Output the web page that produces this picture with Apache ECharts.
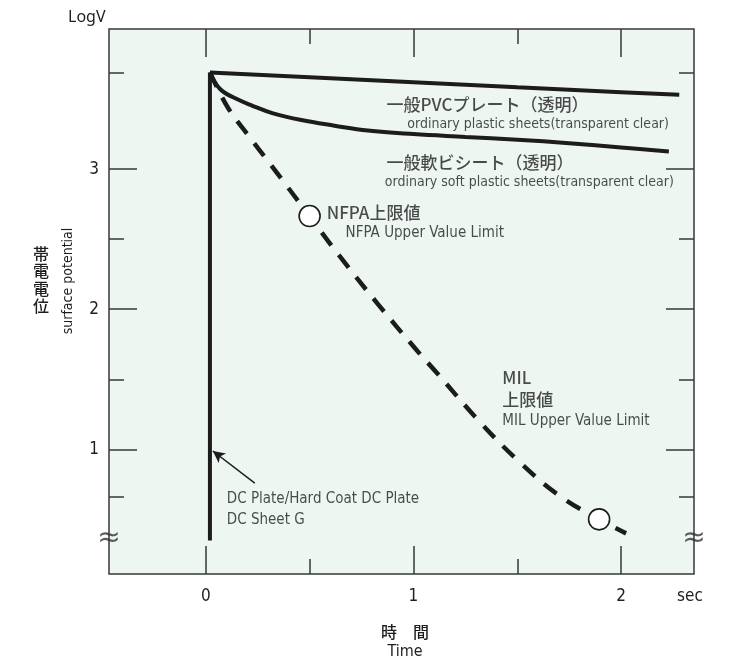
<!DOCTYPE html>
<html>
<head>
<meta charset="utf-8">
<script src="https://cdn.jsdelivr.net/npm/echarts@6/dist/echarts.min.js"></script>
<style>
html,body{margin:0;padding:0;background:#fff;}
#chart{width:732px;height:662px;}
</style>
</head>
<body>
<div id="chart"></div>
<script>
// ---------- data ----------
const timeMajorTicks = [0, 1, 2];
const timeMinorTicks = [0.5, 1.5];
const potMajorTicks = [1, 2, 3];
const potMinorTicks = [3.69, 2.5, 1.5, 0.66];

// 一般PVCプレート(透明)
const pvcT = [0.02, 0.5, 1.0, 1.5, 2.0, 2.28];
const pvcV = [3.69, 3.656, 3.62, 3.584, 3.549, 3.53];

// 一般軟ビシート(透明)
const softT = [0.02, 0.07, 0.15, 0.22, 0.32, 0.46, 0.62, 0.78, 1.0, 1.25, 1.5, 1.75, 2.0, 2.23];
const softV = [3.69, 3.57, 3.5, 3.455, 3.4, 3.35, 3.31, 3.275, 3.25, 3.23, 3.21, 3.185, 3.155, 3.125];

// dashed decay curve (upper value limits)
const limitT = [0.02, 0.106, 0.21, 0.298, 0.38, 0.466, 0.644, 0.827, 1.014, 1.11, 1.317, 1.51, 1.702, 1.894, 2.024];
const limitV = [3.69, 3.44, 3.23, 3.06, 2.90, 2.73, 2.38, 2.04, 1.71, 1.55, 1.20, 0.91, 0.67, 0.50, 0.40];

// DC Plate / DC Sheet G
const dcT = [0.02, 0.02];
const dcV = [3.69, 0.35];

// NFPA / MIL limit points
const markerT = [0.5, 1.894];
const markerV = [2.665, 0.50];

// texts
const noteTexts = [
  '一般PVCプレート（透明）',
  'ordinary plastic sheets(transparent clear)',
  '一般軟ビシート（透明）',
  'ordinary soft plastic sheets(transparent clear)',
  'NFPA上限値',
  'NFPA Upper Value Limit',
  'MIL',
  '上限値',
  'MIL Upper Value Limit',
  'DC Plate/Hard Coat DC Plate',
  'DC Sheet G'
];
const yUnit = 'LogV';
const xUnit = 'sec';
const xTitleJa = '時　間';
const xTitleEn = 'Time';
const yTitleJa = '帯電電位';
const yTitleEn = 'surface potential';

// ---------- layout ----------
const X_MIN = -0.466, X_MAX = 2.351, Y_MIN = 0.11, Y_MAX = 4.0;
const noteCoords = [
  [0.87, 3.458], [0.97, 3.322], [0.87, 3.044], [0.862, 2.908],
  [0.582, 2.687], [0.673, 2.544],
  [1.428, 1.509], [1.428, 1.352], [1.428, 1.202],
  [0.101, 0.645], [0.101, 0.495]
];
const noteSizes = [17, 14, 17, 14, 17, 15, 17, 17, 15, 15, 15];
const noteIsJa = [true, false, true, false, true, false, true, true, false, false, false];
const arrowFrom = [0.236, 0.759];
const arrowTo = [0.034, 0.988];
const breakY = 0.36;

const NARROW = "'Liberation Sans Narrow','DejaVu Sans Condensed','Roboto Condensed',Roboto,sans-serif";
const JA = "'Noto Sans CJK JP','Noto Sans',sans-serif";
const INK = '#1c1c1c';
const AXIS = '#383838';
const TEXT = '#1e1e1e';

const zip = (a, b) => a.map((v, i) => [v, b[i]]);

function xAxisDef(pos, ticks, len, labels) {
  return {
    type: 'value', position: pos, min: X_MIN, max: X_MAX, gridIndex: 0,
    axisLine: {show: false, onZero: false},
    splitLine: {show: false},
    axisTick: {show: true, inside: true, length: len, customValues: ticks,
      lineStyle: {color: AXIS, width: 1.5}},
    axisLabel: labels ? {show: true, customValues: ticks, margin: 14,
      fontFamily: NARROW, fontSize: 17, color: TEXT} : {show: false}
  };
}
function yAxisDef(pos, ticks, len, labels) {
  return {
    type: 'value', position: pos, min: Y_MIN, max: Y_MAX, gridIndex: 0,
    axisLine: {show: false, onZero: false},
    splitLine: {show: false},
    axisTick: {show: true, inside: true, length: len, customValues: ticks,
      lineStyle: {color: AXIS, width: 1.5}},
    axisLabel: labels ? {show: true, customValues: ticks, margin: 10,
      fontFamily: NARROW, fontSize: 17, color: TEXT} : {show: false}
  };
}

const noteData = noteTexts.map((t, i) => ({
  value: noteCoords[i],
  label: {
    formatter: t,
    fontFamily: noteIsJa[i] ? JA : NARROW,
    fontWeight: noteIsJa[i] ? 500 : 'normal',
    fontSize: noteSizes[i]
  }
}));

const option = {
  animation: false,
  backgroundColor: '#ffffff',
  grid: {left: 109, top: 29, width: 585, height: 545, show: true,
    backgroundColor: '#edf6f1', borderColor: AXIS, borderWidth: 1.5},
  xAxis: [
    xAxisDef('bottom', timeMajorTicks, 28, true),
    xAxisDef('bottom', timeMinorTicks, 15, false),
    xAxisDef('top', timeMajorTicks, 28, false),
    xAxisDef('top', timeMinorTicks, 15, false)
  ],
  yAxis: [
    yAxisDef('left', potMajorTicks, 28, true),
    yAxisDef('left', potMinorTicks, 15, false),
    yAxisDef('right', potMajorTicks, 28, false),
    yAxisDef('right', potMinorTicks, 15, false)
  ],
  series: [
    {type: 'line', name: 'PVC', data: zip(pvcT, pvcV), smooth: true, symbol: 'none',
      lineStyle: {color: INK, width: 4}, silent: true, z: 3},
    {type: 'line', name: 'soft', data: zip(softT, softV), smooth: 0.4, symbol: 'none',
      lineStyle: {color: INK, width: 4}, silent: true, z: 3},
    {type: 'line', name: 'limit', data: zip(limitT, limitV), smooth: 0.4, symbol: 'none',
      lineStyle: {color: INK, width: 4.5, type: [16, 12]}, silent: true, z: 3},
    {type: 'line', name: 'DC', data: zip(dcT, dcV), symbol: 'none',
      lineStyle: {color: INK, width: 4}, silent: true, z: 3,
      markLine: {silent: true, symbol: ['none', 'arrow'], symbolSize: [9, 12],
        label: {show: false},
        lineStyle: {color: INK, width: 1.5, type: 'solid'},
        data: [[{coord: arrowFrom}, {coord: arrowTo}]]}},
    {type: 'scatter', name: 'limits', data: zip(markerT, markerV), symbol: 'circle', symbolSize: 21,
      itemStyle: {color: '#ffffff', opacity: 1, borderColor: INK, borderWidth: 1.6}, silent: true, z: 5},
    {type: 'scatter', name: 'notes', data: noteData, symbolSize: 0.1,
      itemStyle: {color: 'rgba(0,0,0,0)'}, silent: true, z: 6,
      label: {show: true, position: 'right', distance: 0, color: TEXT}},
    {type: 'scatter', name: 'breaks', data: [[X_MIN, breakY], [X_MAX, breakY]], symbolSize: 0.1,
      itemStyle: {color: 'rgba(0,0,0,0)'}, silent: true, z: 6,
      label: {show: true, position: 'inside', formatter: '≈', fontSize: 28,
        fontFamily: "'DejaVu Sans',sans-serif", color: '#333'}}
  ],
  graphic: [
    {type: 'text', x: 68, y: 17, style: {text: yUnit, fontFamily: "'Noto Sans',sans-serif",
      fontSize: 16, fill: TEXT, align: 'left', verticalAlign: 'middle',
      textAlign: 'left', textVerticalAlign: 'middle'}},
    {type: 'text', x: 690, y: 597, style: {text: xUnit, fontFamily: NARROW,
      fontSize: 17, fill: TEXT, align: 'center', verticalAlign: 'middle',
      textAlign: 'center', textVerticalAlign: 'middle'}},
    {type: 'text', x: 405, y: 632, style: {text: xTitleJa, fontFamily: JA, fontWeight: 500,
      fontSize: 16, fill: TEXT, align: 'center', verticalAlign: 'middle',
      textAlign: 'center', textVerticalAlign: 'middle'}},
    {type: 'text', x: 405, y: 652, style: {text: xTitleEn, fontFamily: NARROW,
      fontSize: 16, fill: TEXT, align: 'center', verticalAlign: 'middle',
      textAlign: 'center', textVerticalAlign: 'middle'}},
    {type: 'text', x: 41, y: 280, style: {text: yTitleJa.split('').join('\n'), fontFamily: JA, fontWeight: 500,
      fontSize: 16, lineHeight: 17.5, fill: TEXT, align: 'center', verticalAlign: 'middle',
      textAlign: 'center', textVerticalAlign: 'middle'}},
    {type: 'text', x: 68, y: 281, rotation: Math.PI / 2, style: {text: yTitleEn, fontFamily: NARROW,
      fontSize: 14, fill: TEXT, align: 'center', verticalAlign: 'middle',
      textAlign: 'center', textVerticalAlign: 'middle'}}
  ]
};

const chart = echarts.init(document.getElementById('chart'), null, {renderer: 'canvas'});
chart.setOption(option);
</script>
</body>
</html>
